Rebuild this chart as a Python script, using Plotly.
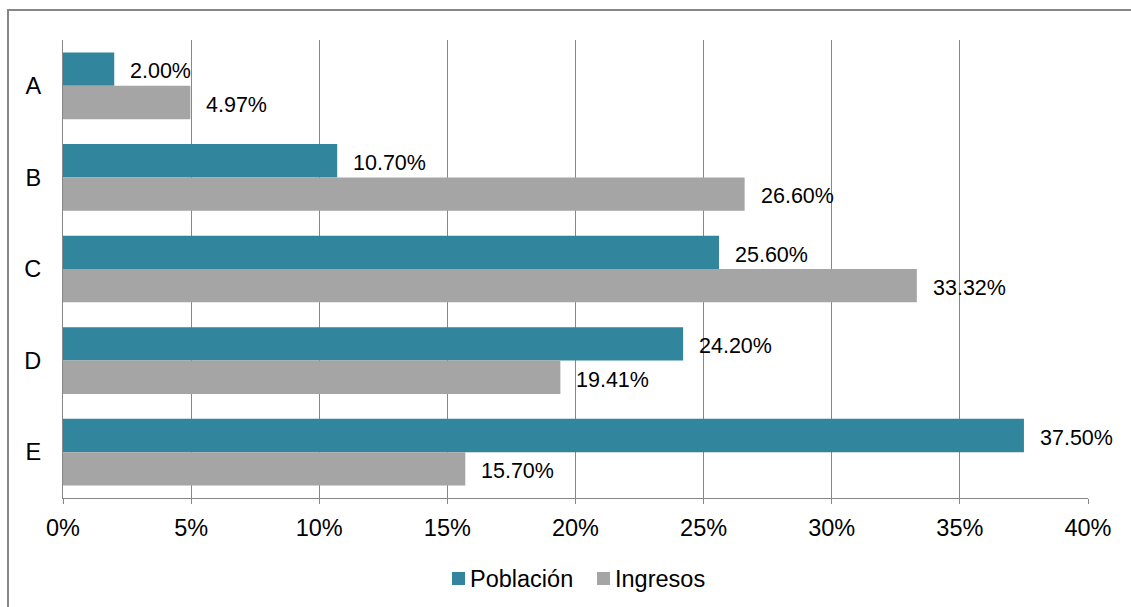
import plotly.graph_objects as go

categorias = ["A", "B", "C", "D", "E"]
poblacion = [2.00, 10.70, 25.60, 24.20, 37.50]
ingresos = [4.97, 26.60, 33.32, 19.41, 15.70]
series = ["Población", "Ingresos"]
ticks_x = [0, 5, 10, 15, 20, 25, 30, 35, 40]
ticks_x_texto = [f"{t}%" for t in ticks_x]

COLOR_POB = "#31859c"
COLOR_ING = "#a5a5a5"
GRID = "#878787"
FONT = "Liberation Sans, Arial, sans-serif"
TXT = 23.5
LBL = 21.5

W, H = 1131, 607
ML, MR, MT, MB = 63, 43, 40, 109
PW, PH = W - ML - MR, H - MT - MB


def px_x(p):
    return (p - ML) / PW


def px_y(p):
    return (H - MB - p) / PH


fig = go.Figure()
fig.add_trace(go.Bar(y=categorias, x=poblacion, orientation="h", name=series[0],
                     marker=dict(color=COLOR_POB, line=dict(width=0)), showlegend=False))
fig.add_trace(go.Bar(y=categorias, x=ingresos, orientation="h", name=series[1],
                     marker=dict(color=COLOR_ING, line=dict(width=0)), showlegend=False))

# value labels to the right of each bar
anns = []
for cat, vp, vi in zip(categorias, poblacion, ingresos):
    anns.append(dict(x=vp, y=cat, text=f"{vp:.2f}%", xanchor="left", yanchor="middle",
                     xshift=14, yshift=14.5, showarrow=False,
                     font=dict(family=FONT, size=LBL, color="#000")))
    anns.append(dict(x=vi, y=cat, text=f"{vi:.2f}%", xanchor="left", yanchor="middle",
                     xshift=14, yshift=-19, showarrow=False,
                     font=dict(family=FONT, size=LBL, color="#000")))

# legend: colour swatch followed by series name
shapes = [dict(type="rect", xref="paper", yref="paper",
               x0=px_x(8), x1=px_x(W + 20), y0=px_y(H + 20), y1=px_y(10),
               line=dict(color=GRID, width=2), layer="below")]
leg_x = [452, 597]
for nombre, color, x0 in zip(series, [COLOR_POB, COLOR_ING], leg_x):
    shapes.append(dict(type="rect", xref="paper", yref="paper",
                       x0=px_x(x0), x1=px_x(x0 + 13), y0=px_y(585), y1=px_y(572),
                       fillcolor=color, line=dict(width=0)))
    anns.append(dict(x=px_x(x0 + 16), y=px_y(579), xref="paper", yref="paper",
                     text=nombre, xanchor="left", yanchor="middle", showarrow=False,
                     font=dict(family=FONT, size=TXT, color="#000")))

fig.update_layout(
    width=W, height=H,
    margin=dict(l=ML, r=MR, t=MT, b=MB, pad=0, autoexpand=False),
    paper_bgcolor="white", plot_bgcolor="white",
    barmode="group", bargap=0.272, bargroupgap=0,
    font=dict(family=FONT, size=TXT, color="#000"),
    annotations=anns,
    shapes=shapes,
    showlegend=False,
    xaxis=dict(range=[0, 40], tickvals=ticks_x, ticktext=ticks_x_texto,
               showgrid=True, gridcolor=GRID, gridwidth=1.3,
               showline=True, linecolor=GRID, linewidth=1.3,
               ticks="outside", ticklen=5, tickcolor=GRID, tickwidth=1.3,
               zeroline=False, ticklabelstandoff=4, automargin=False,
               tickfont=dict(family=FONT, size=TXT, color="#000"), fixedrange=True),
    yaxis=dict(autorange="reversed", showline=True, linecolor=GRID, linewidth=1.3,
               showgrid=False, ticks="", ticklabelstandoff=16, automargin=False,
               tickfont=dict(family=FONT, size=TXT, color="#000"), fixedrange=True),
)

fig.write_html("out.html")
